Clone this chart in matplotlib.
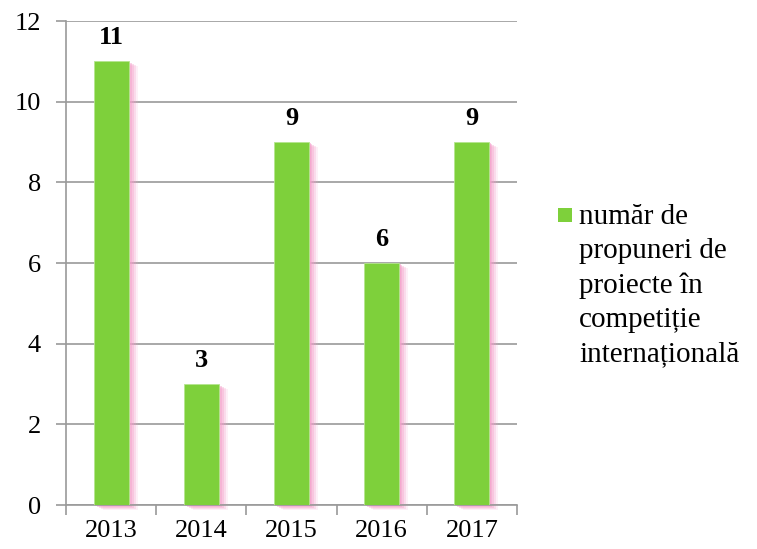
import matplotlib
matplotlib.use("Agg")
import matplotlib.pyplot as plt
import matplotlib.transforms as mtransforms
from matplotlib.patches import Rectangle

# date: numar de propuneri de proiecte pe ani
years = ["2013", "2014", "2015", "2016", "2017"]
values = [11, 3, 9, 6, 9]
legend_label = "număr de\npropuneri de\nproiecte în\ncompetiție\ninternațională"

GREEN = "#7ED03B"
PINK = "#F59FCB"
GRID = "#9A9A9A"

plt.rcParams["font.family"] = ["Liberation Serif", "DejaVu Serif"]

fig = plt.figure(figsize=(7.57, 5.49), dpi=100)
ax = fig.add_axes([66 / 757, 44 / 549, 451 / 757, 484 / 549])

x = list(range(len(years)))
bar_w = 0.39

# umbra roz din dreapta barelor, cateva straturi decalate
for dx, alpha in [(9, 0.15), (7, 0.25), (5, 0.35), (3, 0.45), (1.5, 0.55)]:
    tr = mtransforms.offset_copy(ax.transData, fig=fig, x=dx, y=-dx * 0.5, units="dots")
    ax.bar(x, values, width=bar_w, color=PINK, alpha=alpha, linewidth=0, transform=tr,
           zorder=2, clip_on=False)

bars = ax.bar(x, values, width=bar_w, color=GREEN, edgecolor="#B5E58F", linewidth=0.6, zorder=3)

for xi, v in zip(x, values):
    ax.annotate(str(v), (xi, v), xytext=(0, 12.5), textcoords="offset points",
                ha="center", va="baseline", fontsize=19, fontweight="bold", zorder=4)

ax.set_xlim(-0.5, len(years) - 0.5)
ax.set_ylim(0, 12)
ax.set_yticks(range(0, 13, 2))
ax.yaxis.grid(True, color=GRID, linewidth=1.2, zorder=0)
ax.set_axisbelow(True)

# etichete anii centrate, tick-uri la granitele categoriilor
ax.set_xticks(x)
ax.set_xticklabels(years)
ax.set_xticks([i - 0.5 for i in range(len(years) + 1)], minor=True)
ax.tick_params(axis="x", which="major", length=0, pad=11, labelsize=19)
ax.tick_params(axis="x", which="minor", length=7, width=1.2, color=GRID, direction="out")
ax.tick_params(axis="y", length=7, width=1.2, color=GRID, pad=11, labelsize=19)

for side in ["top", "right"]:
    ax.spines[side].set_visible(False)
for side in ["left", "bottom"]:
    ax.spines[side].set_color(GRID)
    ax.spines[side].set_linewidth(1.2)

# legenda desenata manual, patratul aliniat cu primul rand
fig.patches.append(Rectangle((558 / 757, 1 - 222 / 549), 14 / 757, 14 / 549,
                             transform=fig.transFigure, facecolor=GREEN, edgecolor="none"))
# baseline-ul ultimului rand
fig.text(579 / 757, 1 - 361 / 549, legend_label, fontsize=21, va="baseline", ha="left",
         linespacing=1.4)

fig.savefig("out.png", dpi=100)
